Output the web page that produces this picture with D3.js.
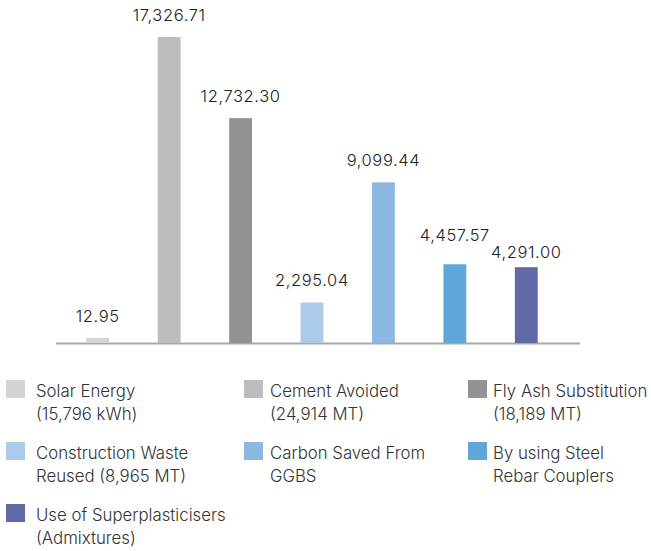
<!DOCTYPE html>
<html>
<head>
<meta charset="utf-8">
<script src="https://cdn.jsdelivr.net/npm/d3@7"></script>
<style>
  body { margin: 0; background: #fff; }
  svg { display: block; font-family: Inter, Roboto, "Noto Sans", sans-serif; }
  .value-label { font-size: 16.5px; font-weight: 300; fill: #222; letter-spacing: 0.6px; }
  .legend-label { font-size: 16.8px; font-weight: 300; fill: #333; }
</style>
</head>
<body>
<div class="chart"></div>
<script>
// chart data
var categories = ['Solar Energy', 'Cement Avoided', 'Fly Ash Substitution', 'Construction Waste Reused',
  'Carbon Saved From GGBS', 'By using Steel Rebar Couplers', 'Use of Superplasticisers'];
var values = [12.95, 17326.71, 12732.30, 2295.04, 9099.44, 4457.57, 4291.00];
var legendLines = [
  ['Solar Energy', '(15,796 kWh)'],
  ['Cement Avoided', '(24,914 MT)'],
  ['Fly Ash Substitution', '(18,189 MT)'],
  ['Construction Waste', 'Reused (8,965 MT)'],
  ['Carbon Saved From', 'GGBS'],
  ['By using Steel', 'Rebar Couplers'],
  ['Use of Superplasticisers', '(Admixtures)']
];
var colors = ['#d4d4d6', '#bdbdbf', '#939396', '#abcbe9', '#8ab8e1', '#5fa7d9', '#6168a6'];

var svgWidth = 651;
var svgHeight = 551;
var baseline = 343;
var minBarHeight = 5;
var labelGap = 16;
var labelLineHeight = 17;

var svg = d3.select('.chart').append('svg')
  .attr('width', svgWidth)
  .attr('height', svgHeight);

var xScale = d3.scaleBand()
  .domain(categories)
  .range([62, 562])
  .paddingInner(0.68)
  .paddingOuter(0.34);

var yScale = d3.scaleLinear()
  .domain([0, d3.max(values)])
  .range([baseline, 37]);

// baseline axis
svg.append('line')
  .attr('x1', 56)
  .attr('x2', 580)
  .attr('y1', baseline + 0.5)
  .attr('y2', baseline + 0.5)
  .attr('stroke', '#a8a8aa')
  .attr('stroke-width', 2);

// bars (tiny values get a minimum visible height)
function barTop(v) {
  return Math.min(yScale(v), baseline - minBarHeight);
}

svg.selectAll('rect.bar')
  .data(values)
  .enter()
  .append('rect')
  .attr('class', 'bar')
  .attr('x', function(d, i) { return xScale(categories[i]); })
  .attr('y', function(d) { return barTop(d); })
  .attr('width', xScale.bandwidth())
  .attr('height', function(d) { return baseline - barTop(d); })
  .attr('fill', function(d, i) { return colors[i]; });

// value labels
var fmt = d3.format(',.2f');
var labels = svg.selectAll('text.value-label')
  .data(values)
  .enter()
  .append('text')
  .attr('class', 'value-label')
  .attr('x', function(d, i) { return xScale(categories[i]) + xScale.bandwidth() / 2; })
  .attr('y', function(d) { return barTop(d) - labelGap; })
  .attr('text-anchor', 'middle')
  .text(function(d) { return fmt(d); });

// nudge neighbouring labels apart when they would collide
var nodes = labels.nodes();
for (var i = 0; i < nodes.length - 1; i++) {
  var a = d3.select(nodes[i]), b = d3.select(nodes[i + 1]);
  var dx = +b.attr('x') - +a.attr('x');
  var wa = nodes[i].getBBox().width, wb = nodes[i + 1].getBBox().width;
  var ya = +a.attr('y'), yb = +b.attr('y');
  if (dx < (wa + wb) / 2 + 6 && Math.abs(ya - yb) < labelLineHeight) {
    var spread = (labelLineHeight - Math.abs(ya - yb)) / 2;
    if (ya <= yb) {
      a.attr('y', ya - spread);
      b.attr('y', yb + spread);
    } else {
      a.attr('y', ya + spread);
      b.attr('y', yb - spread);
    }
  }
}

// legend, three columns
var swatchX = [6, 244, 468];
var textX = [36, 270, 493];
var rowY = [380, 442, 504];

var legend = svg.selectAll('g.legend-item')
  .data(legendLines)
  .enter()
  .append('g')
  .attr('class', 'legend-item');

legend.append('rect')
  .attr('x', function(d, i) { return swatchX[i % 3]; })
  .attr('y', function(d, i) { return rowY[Math.floor(i / 3)]; })
  .attr('width', 19)
  .attr('height', 18)
  .attr('fill', function(d, i) { return colors[i]; });

legend.each(function(lines, i) {
  var g = d3.select(this);
  lines.forEach(function(line, j) {
    g.append('text')
      .attr('class', 'legend-label')
      .attr('x', textX[i % 3])
      .attr('y', rowY[Math.floor(i / 3)] + 17 + j * 23)
      .text(line);
  });
});
</script>
</body>
</html>
